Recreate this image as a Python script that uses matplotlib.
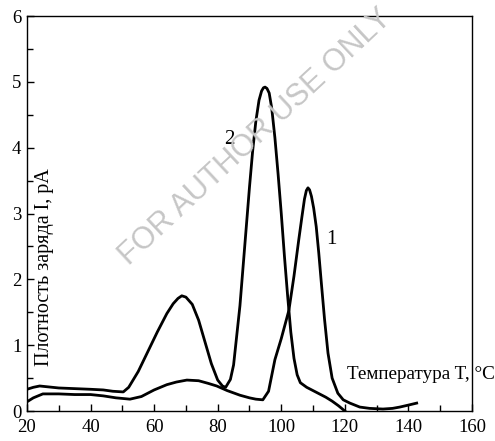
import matplotlib
matplotlib.use("Agg")
import matplotlib.pyplot as plt
from matplotlib.ticker import MultipleLocator

# curve 1: low shoulder, main peak near 108 C
t1 = [20, 22, 25, 30, 35, 40, 44, 48, 52.4, 56, 60, 64, 67, 70.3, 74, 77, 79.7, 83,
      87, 90, 92, 94.2, 96, 98, 100, 102.4, 104, 105.5, 106.5, 107.3, 107.9, 108.4,
      108.9, 109.5, 110.2, 111, 111.8, 112.6, 113.6, 114.7, 116, 117.8, 119.5, 121.6,
      124.7, 127.8, 132, 135, 137.3, 140, 142.6]
i1 = [0.14, 0.2, 0.26, 0.26, 0.25, 0.25, 0.23, 0.2, 0.18, 0.22, 0.32, 0.4, 0.44, 0.47,
      0.46, 0.42, 0.38, 0.31, 0.24, 0.2, 0.18, 0.17, 0.3, 0.78, 1.1, 1.53, 2.05, 2.6,
      2.95, 3.22, 3.35, 3.39, 3.36, 3.26, 3.08, 2.8, 2.4, 1.95, 1.4, 0.88, 0.5, 0.27,
      0.17, 0.12, 0.06, 0.04, 0.03, 0.04, 0.06, 0.09, 0.12]

# curve 2: peaks near 69 C and 95 C
t2 = [20, 22, 24, 26, 30, 35, 40, 44, 47, 50.3, 52, 55, 58, 61, 64, 66, 67.5, 68.7,
      70, 72, 74, 76, 78, 80, 81.5, 82.5, 84, 85, 87, 89, 90, 91, 92, 93, 93.8, 94.4,
      94.9, 95.5, 96.2, 97, 98, 99, 100, 101, 102, 103, 104, 105, 106, 108, 110, 112,
      114, 116, 118, 120]
i2 = [0.33, 0.36, 0.38, 0.37, 0.35, 0.34, 0.33, 0.32, 0.3, 0.29, 0.36, 0.6, 0.9, 1.2,
      1.48, 1.63, 1.71, 1.75, 1.73, 1.62, 1.38, 1.05, 0.72, 0.47, 0.38, 0.36, 0.48, 0.7,
      1.6, 2.8, 3.4, 3.95, 4.4, 4.72, 4.86, 4.91, 4.92, 4.9, 4.83, 4.6, 4.15, 3.6, 3.0,
      2.35, 1.75, 1.2, 0.8, 0.55, 0.43, 0.36, 0.31, 0.26, 0.21, 0.15, 0.08, 0.0]

xticks = [20, 40, 60, 80, 100, 120, 140, 160]
yticks = [0, 1, 2, 3, 4, 5, 6]

plt.rcParams['font.family'] = ['Liberation Serif', 'DejaVu Serif']

fig = plt.figure(figsize=(4.95, 4.41), dpi=100)
ax = fig.add_axes([0.0545, 0.068, 0.899, 0.8957])

ax.plot(t1, i1, color='black', lw=2.0, solid_joinstyle='round')
ax.plot(t2, i2, color='black', lw=2.0, solid_joinstyle='round')

ax.set_xlim(20, 160)
ax.set_ylim(0, 6)
ax.set_xticks(xticks)
ax.set_yticks(yticks)
ax.xaxis.set_minor_locator(MultipleLocator(10))
ax.yaxis.set_minor_locator(MultipleLocator(0.5))
ax.tick_params(which='both', direction='in', top=False, right=False,
               labelsize=13.5, width=1)
ax.tick_params(axis='x', pad=6)
ax.tick_params(axis='y', pad=4)
ax.tick_params(which='major', length=5)
ax.tick_params(which='minor', length=4)
for s in ax.spines.values():
    s.set_linewidth(1)

ax.text(83.8, 4.12, '2', fontsize=15, ha='center', va='center')
ax.text(115.9, 2.6, '1', fontsize=15, ha='center', va='center')
ax.text(0.72, 0.55 / 6, 'Температура T, °C', transform=ax.transAxes,
        fontsize=13.8, ha='left', va='center')
ax.text(0.04, 0.365, 'Плотность заряда I, pA', transform=ax.transAxes,
        fontsize=14.5, rotation=90, ha='center', va='center')

# watermark
fig.text(0.515, 0.69, 'FOR AUTHOR USE ONLY', rotation=43, fontsize=22,
         family='Liberation Sans', color='#c6c6c6', ha='center', va='center',
         zorder=0)

fig.savefig('out.png', dpi=100)
